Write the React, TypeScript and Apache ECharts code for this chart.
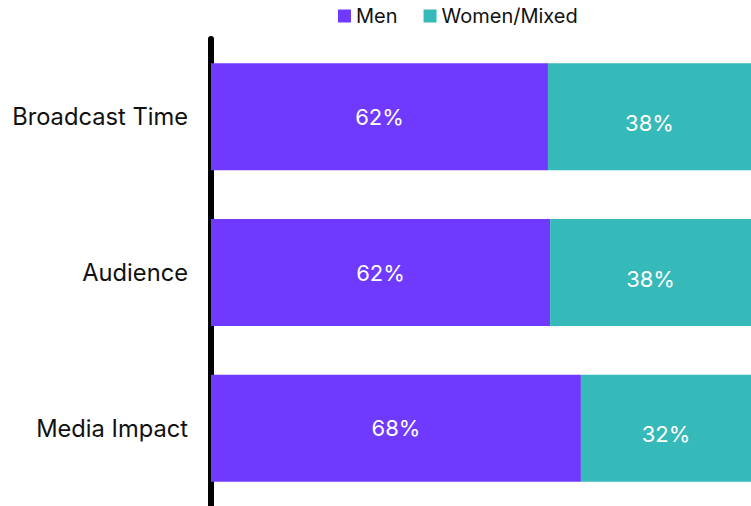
import React, { useEffect, useRef } from "react";
import * as echarts from "echarts";

const categories = ["Broadcast Time", "Audience", "Media Impact"];
const menShare = [62.4, 62.8, 68.5];
const womenShare = [37.6, 37.2, 31.5];
const menLabels = ["62%", "62%", "68%"];
const womenLabels = ["38%", "38%", "32%"];
const seriesNames = ["Men", "Women/Mixed"];

export default function App() {
  const ref = useRef<HTMLDivElement>(null);
  useEffect(() => {
    const chart = echarts.init(ref.current!, null, { renderer: "svg" });
    chart.setOption({
      animation: false,
      textStyle: { fontFamily: "Inter" },
      legend: {
        data: seriesNames,
        left: 338,
        top: 6,
        padding: 0,
        itemWidth: 13,
        itemHeight: 13,
        itemGap: 26,
        icon: "rect",
        textStyle: { fontSize: 20, color: "#111", fontFamily: "Inter" },
      },
      grid: { left: 211, right: 0, top: 39, bottom: -4, containLabel: false },
      xAxis: {
        type: "value",
        min: 0,
        max: 100,
        show: false,
      },
      yAxis: {
        type: "category",
        data: categories,
        inverse: true,
        offset: 3,
        axisLine: { show: true, lineStyle: { color: "#000", width: 6 } },
        axisTick: { show: false },
        axisLabel: { fontSize: 23.7, color: "#111", margin: 20, fontFamily: "Inter" },
        splitLine: { show: false },
      },
      series: [
        {
          name: seriesNames[0],
          type: "bar",
          stack: "total",
          barWidth: 107,
          data: menShare,
          itemStyle: { color: "#6f3afd" },
          label: {
            show: true,
            position: "inside",
            color: "#fff",
            fontSize: 22,
            fontFamily: "Inter",
            formatter: (p: any) => menLabels[p.dataIndex],
          },
        },
        {
          name: seriesNames[1],
          type: "bar",
          stack: "total",
          barWidth: 107,
          data: womenShare,
          itemStyle: { color: "#36b9b9" },
          label: {
            show: true,
            position: "inside",
            offset: [0, 6],
            color: "#fff",
            fontSize: 22,
            fontFamily: "Inter",
            formatter: (p: any) => womenLabels[p.dataIndex],
          },
        },
      ],
    });
    return () => chart.dispose();
  }, []);
  return <div ref={ref} style={{ width: 751, height: 506, position: "absolute", left: 0, top: 0 }} />;
}
